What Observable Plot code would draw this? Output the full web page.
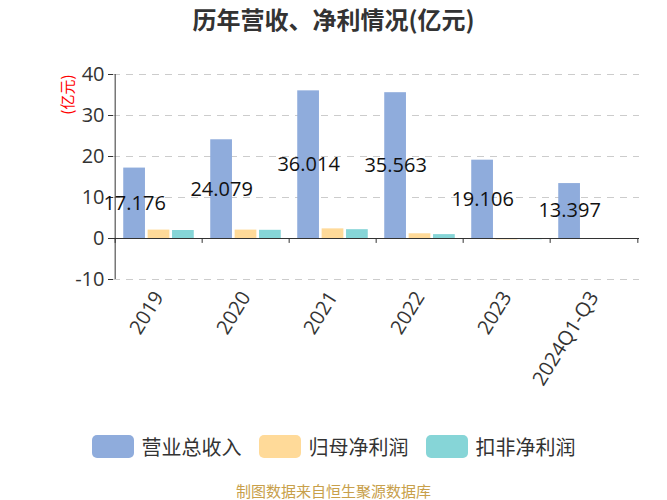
<!DOCTYPE html>
<html>
<head>
<meta charset="utf-8">
<script src="https://cdn.jsdelivr.net/npm/d3@7"></script>
<script src="https://cdn.jsdelivr.net/npm/@observablehq/plot@0.6"></script>
<style>
  html, body { margin: 0; padding: 0; background: #fff; }
  body { width: 667px; height: 500px; overflow: hidden; font-family: "Open Sans", "Noto Sans CJK SC", sans-serif; }
  #wrap { position: relative; width: 667px; height: 500px; }
  #title { position: absolute; left: 0; top: 0; width: 667px; height: 38px; line-height: 38px; text-align: center;
           font-size: 24px; font-weight: bold; color: #333; font-family: "Noto Sans CJK SC", sans-serif; }
  #chart { position: absolute; left: 0; top: 38px; }
  #legend { position: absolute; left: 0; top: 435px; width: 667px; height: 23px; display: flex; justify-content: center;
            align-items: center; gap: 17px; font-size: 20px; color: #333; font-family: "Noto Sans CJK SC", sans-serif; }
  .item { display: flex; align-items: center; gap: 8px; }
  .sw { width: 42px; height: 23px; border-radius: 5px; }
  #caption { position: absolute; left: 0; top: 482px; width: 667px; height: 18px; line-height: 18px; text-align: center;
             font-size: 15px; color: #c8a04a; font-family: "Noto Sans CJK SC", sans-serif; }
</style>
</head>
<body>
<div id="wrap">
  <div id="title"></div>
  <div id="chart"></div>
  <div id="legend"></div>
  <div id="caption"></div>
</div>
<script>
const titleText = "历年营收、净利情况(亿元)";
const captionText = "制图数据来自恒生聚源数据库";
const unitLabel = "(亿元)";
const years = ["2019", "2020", "2021", "2022", "2023", "2024Q1-Q3"];
const seriesNames = ["营业总收入", "归母净利润", "扣非净利润"];
const revenue = [17.176, 24.079, 36.014, 35.563, 19.106, 13.397];
const netProfit = [2.05, 2.05, 2.35, 1.15, -0.35, -0.08];
const deductedProfit = [1.95, 2.0, 2.15, 0.95, -0.3, -0.1];
const colors = ["#8facdc", "#ffda99", "#86d5d7"];
const yTicks = [-10, 0, 10, 20, 30, 40];

const seriesValues = [revenue, netProfit, deductedProfit];
const rows = seriesValues.map((vals, s) => years.map((year, i) => ({year, series: seriesNames[s], value: vals[i]})));

const W = 667, H = 392, mL = 113, mR = 28, mT = 36, mB = 151;
const bw = (W - mL - mR) / years.length;   // band width
const barW = 22.4, step = 24.4;
const inset = (bw - barW) / 2;
const font = "'Open Sans', 'Noto Sans CJK SC', sans-serif";

const barMark = (s) => Plot.barY(rows[s], {
  x: "year", y: "value", fill: colors[s],
  insetLeft: inset, insetRight: inset, dx: (s - 1) * step
});

const chart = Plot.plot({
  width: W, height: H,
  marginLeft: mL, marginRight: mR, marginTop: mT, marginBottom: mB,
  style: {fontFamily: font, color: "#333", background: "transparent", overflow: "visible"},
  x: {domain: years, padding: 0, axis: null},
  y: {domain: [-10, 40], axis: null},
  marks: [
    Plot.gridY(yTicks.filter(d => d !== 0), {stroke: "#ccc", strokeOpacity: 1, strokeDasharray: "7,6"}),
    barMark(0), barMark(1), barMark(2),
    Plot.ruleY([0], {stroke: "#333", strokeWidth: 1}),
    Plot.ruleX(years, {x: d => d, dx: -bw / 2, y1: 0, y2: -1.2, stroke: "#333"}),
    Plot.ruleX([years[years.length - 1]], {x: d => d, dx: bw / 2, y1: 0, y2: -1.2, stroke: "#333"}),
    Plot.ruleX([years[0]], {x: d => d, dx: -bw / 2, y1: -10, y2: 40, stroke: "#333"}),
    Plot.axisY({ticks: yTicks, tickFormat: d => String(d), tickSize: 5, tickPadding: 4, fontSize: 20,
      label: null, stroke: "#333", fill: "#333"}),
    Plot.axisX({tickSize: 0, tickRotate: -58, tickPadding: 14, fontSize: 20, label: null, fill: "#333"}),
    Plot.text(rows[0], {x: "year", y: d => d.value / 2, text: d => d3.format(".3f")(d.value),
      dx: -step, fontSize: 20, fill: "#111"}),
    Plot.text([unitLabel], {frameAnchor: "top-left", rotate: -90, textAnchor: "end", dx: -51,
      fill: "#ff0000", fontSize: 15, fontFamily: "'Noto Sans CJK SC', sans-serif"})
  ]
});
document.getElementById("chart").appendChild(chart);
document.getElementById("title").textContent = titleText;
document.getElementById("caption").textContent = captionText;
const legend = document.getElementById("legend");
seriesNames.forEach((name, i) => {
  const item = document.createElement("div");
  item.className = "item";
  const sw = document.createElement("div");
  sw.className = "sw";
  sw.style.background = colors[i];
  const label = document.createElement("span");
  label.textContent = name;
  item.appendChild(sw);
  item.appendChild(label);
  legend.appendChild(item);
});
</script>
</body>
</html>
